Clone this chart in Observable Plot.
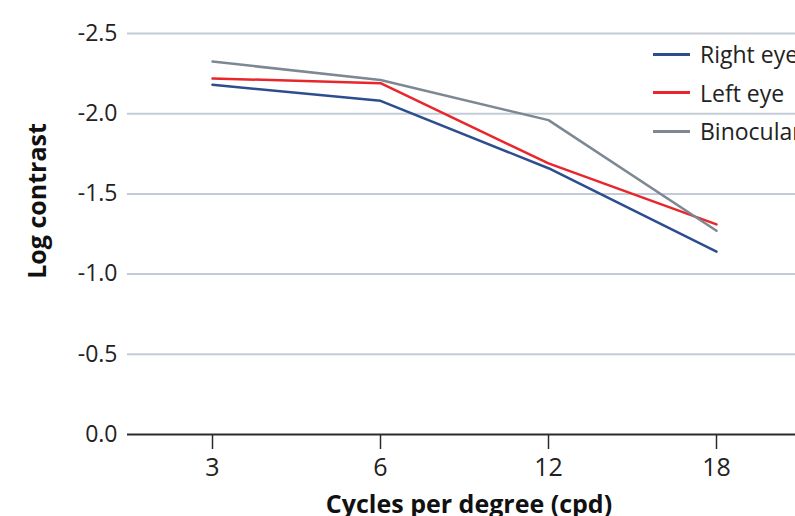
<!DOCTYPE html>
<html>
<head>
<meta charset="utf-8">
<script src="https://cdn.jsdelivr.net/npm/d3@7"></script>
<script src="https://cdn.jsdelivr.net/npm/@observablehq/plot@0.6"></script>
<style>
  html, body { margin: 0; padding: 0; background: #fff; overflow: hidden; }
  #wrap { position: relative; width: 795px; height: 516px; overflow: hidden; font-family: "Open Sans", sans-serif; }
  #wrap svg { max-width: none !important; }
  .legend { position: absolute; left: 653px; top: 35px; }
  .legend .item { display: flex; align-items: center; height: 38.5px; font-size: 23px; color: #222; white-space: nowrap; }
  .legend .sw { width: 37px; height: 3px; margin-right: 10px; }
</style>
</head>
<body>
<div id="wrap"></div>
<script>
const cpd = ["3", "6", "12", "18"];
const rightEye = [-2.18, -2.08, -1.66, -1.14];
const leftEye = [-2.22, -2.19, -1.69, -1.31];
const binocular = [-2.325, -2.21, -1.96, -1.27];
const seriesNames = ["Right eye", "Left eye", "Binocular"];
const seriesColors = ["#2c4d8e", "#e8262b", "#7d8893"];
const yTicks = [-2.5, -2.0, -1.5, -1.0, -0.5, 0.0];

const seriesValues = [rightEye, leftEye, binocular];
const rows = [];
seriesNames.forEach((name, i) => {
  cpd.forEach((c, j) => rows.push({series: name, cpd: c, value: seriesValues[i][j]}));
});

const chart = Plot.plot({
  width: 800,
  height: 516,
  marginLeft: 127,
  marginRight: 0,
  marginTop: 33,
  marginBottom: 82,
  style: {fontFamily: "'Open Sans', sans-serif", background: "transparent", overflow: "visible", maxWidth: "none"},
  x: {type: "band", domain: cpd, padding: 0},
  y: {domain: [0, -2.5]},
  color: {domain: seriesNames, range: seriesColors},
  marks: [
    Plot.ruleY(yTicks.filter(d => d !== 0), {stroke: "#c3ccd6", strokeWidth: 2}),
    Plot.ruleY([0], {stroke: "#2b2b2b", strokeWidth: 2}),
    Plot.axisY({ticks: yTicks, tickSize: 0, tickPadding: 10, tickFormat: d => d.toFixed(1), fontSize: 23, fill: "#222", label: null}),
    Plot.axisX({tickSize: 15, tickPadding: 9, fontSize: 25, fill: "#222", stroke: "#2b2b2b", strokeWidth: 1.5, label: null}),
    Plot.line(rows, {x: "cpd", y: "value", z: "series", stroke: "series", strokeWidth: 2.5}),
    Plot.text(["Log contrast"], {frameAnchor: "left", textAnchor: "middle", lineAnchor: "middle", dx: -90, dy: -33, rotate: -90, fontSize: 25, fontWeight: "bold", fill: "#111"}),
    Plot.text(["Cycles per degree (cpd)"], {frameAnchor: "bottom", textAnchor: "middle", lineAnchor: "middle", dx: 5, dy: 70, fontSize: 25, fontWeight: "bold", fill: "#111"})
  ]
});

const wrap = document.getElementById("wrap");
wrap.appendChild(chart);

const legend = document.createElement("div");
legend.className = "legend";
seriesNames.forEach((name, i) => {
  const item = document.createElement("div");
  item.className = "item";
  const sw = document.createElement("span");
  sw.className = "sw";
  sw.style.background = seriesColors[i];
  const label = document.createElement("span");
  label.textContent = name;
  item.appendChild(sw);
  item.appendChild(label);
  legend.appendChild(item);
});
wrap.appendChild(legend);
</script>
</body>
</html>
